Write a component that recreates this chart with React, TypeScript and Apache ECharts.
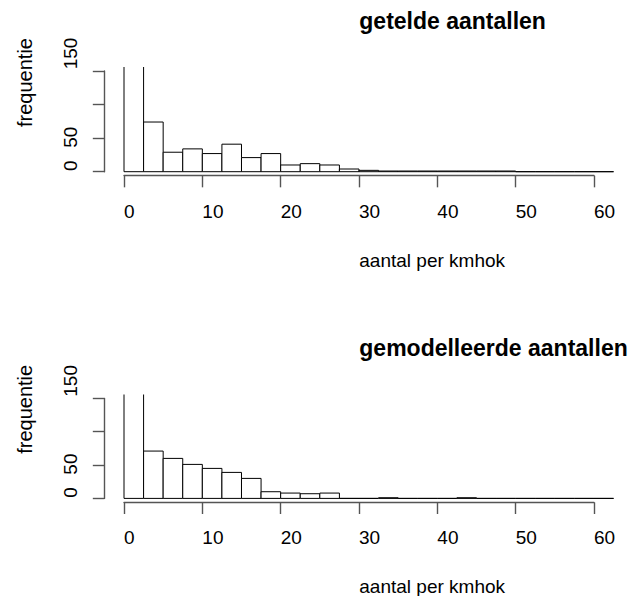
import React, { useEffect, useRef } from "react";
import * as echarts from "echarts";

// ---- data ----
const breaks = [0, 2.5, 5, 7.5, 10, 12.5, 15, 17.5, 20, 22.5, 25, 27.5, 30, 32.5, 35, 37.5, 40, 42.5, 45, 47.5, 50, 52.5, 55, 57.5, 60, 62.5];
const countsObserved = [420, 74, 29, 34, 27, 41, 21, 27, 10, 12, 10, 4, 2, 1, 1, 1, 1, 1, 1, 1, 0, 0, 0, 0, 0];
const countsModelled = [420, 71, 60, 51, 45, 39, 30, 10, 8, 7, 8, 0, 0, 1, 0, 0, 0, 1, 0, 0, 0, 0, 0, 0, 0];
const xTicks = [0, 10, 20, 30, 40, 50, 60];
const yTicks = [0, 50, 100, 150];
const yTickLabels = ["0", "50", "", "150"];
const titles = ["getelde aantallen", "gemodelleerde aantallen"];
const xLabel = "aantal per kmhok";
const yLabel = "frequentie";

// ---- layout ----
const FONT = '"Liberation Sans", Arial, Helvetica, sans-serif';
const PX0 = 124;
const PXS = 7.833;
const panelLayout = [
  { y0: 171.7, ys: 0.6713, dy: 0 },
  { y0: 498.4, ys: 0.6667, dy: 326.8 },
];
const labelPad: Record<string, number> = { "0": 12, "50": 2, "150": 35 };

function buildOption() {
  const grid: any[] = [];
  const xAxis: any[] = [];
  const yAxis: any[] = [];
  const series: any[] = [];
  const graphic: any[] = [];
  const axisLineStyle = { color: "#555", width: 1.4 };
  const panelData = [countsObserved, countsModelled];

  panelLayout.forEach((p, i) => {
    const xlo = -2.5, xhi = 65, ylo = -6, yhi = 156;
    // data grid (R plot region)
    grid.push({
      left: PX0 + xlo * PXS,
      width: (xhi - xlo) * PXS,
      top: p.y0 - yhi * p.ys,
      height: (yhi - ylo) * p.ys,
      outerBoundsMode: "none",
      containLabel: false,
    });
    // axis grid (tick range)
    grid.push({
      left: PX0,
      width: (xTicks[xTicks.length - 1] - xTicks[0]) * PXS,
      top: p.y0 - yTicks[yTicks.length - 1] * p.ys,
      height: (yTicks[yTicks.length - 1] - yTicks[0]) * p.ys,
      outerBoundsMode: "none",
      containLabel: false,
    });
    xAxis.push({ gridIndex: 2 * i, type: "value", min: xlo, max: xhi, show: false });
    xAxis.push({
      gridIndex: 2 * i + 1,
      type: "value",
      min: xTicks[0],
      max: xTicks[xTicks.length - 1],
      interval: 10,
      position: "bottom",
      offset: 6 * p.ys,
      axisLine: { show: true, onZero: false, lineStyle: axisLineStyle },
      axisTick: { show: true, length: 11.6, lineStyle: axisLineStyle },
      axisLabel: {
        show: true,
        interval: 0,
        showMinLabel: true,
        showMaxLabel: true,
        hideOverlap: false,
        align: "left",
        margin: 26,
        fontSize: 19,
        fontFamily: FONT,
        color: "#000",
      },
      splitLine: { show: false },
    });
    yAxis.push({ gridIndex: 2 * i, type: "value", min: ylo, max: yhi, show: false });
    yAxis.push({
      gridIndex: 2 * i + 1,
      type: "value",
      min: yTicks[0],
      max: yTicks[yTicks.length - 1],
      interval: 50,
      position: "left",
      offset: 2.5 * PXS,
      axisLine: { show: true, onZero: false, lineStyle: axisLineStyle },
      axisTick: { show: true, length: 11.6, lineStyle: axisLineStyle },
      axisLabel: {
        show: true,
        interval: 0,
        showMinLabel: true,
        showMaxLabel: true,
        hideOverlap: false,
        rotate: 90,
        margin: 24,
        fontSize: 19,
        fontFamily: FONT,
        color: "#000",
        formatter: (v: number) => {
          const idx = yTicks.indexOf(v);
          const t = idx >= 0 ? yTickLabels[idx] : "";
          if (!t) return "";
          return "{l" + t + "|" + t + "}";
        },
        rich: Object.fromEntries(
          Object.keys(labelPad).map((k) => [
            "l" + k,
            { fontSize: 19, fontFamily: FONT, color: "#000", padding: [0, 0, 0, labelPad[k]] },
          ])
        ),
      },
      splitLine: { show: false },
    });

    series.push({
      type: "custom",
      xAxisIndex: 2 * i,
      yAxisIndex: 2 * i,
      clip: true,
      data: panelData[i].map((c, k) => [breaks[k], breaks[k + 1], c]),
      renderItem: (params: any, api: any) => {
        const x0 = api.value(0), x1 = api.value(1), v = api.value(2);
        const pBL = api.coord([x0, 0]);
        const pTR = api.coord([x1, v]);
        const cs = params.coordSys;
        const top = Math.max(pTR[1], cs.y - 20);
        const left = pBL[0], right = pTR[0], bottom = pBL[1];
        return {
          type: "polygon",
          shape: { points: [[left, bottom], [left, top], [right, top], [right, bottom]] },
          style: { fill: "#fff", stroke: "#000", lineWidth: 1 },
        };
      },
    });

    graphic.push({
      type: "text",
      x: 359.3,
      y: 20.7 + p.dy,
      style: { text: titles[i], font: "bold 23px " + FONT, fill: "#000", textAlign: "left", textVerticalAlign: "middle" },
    });
    graphic.push({
      type: "text",
      x: 359.3,
      y: 260.1 + p.dy,
      style: { text: xLabel, font: "19px " + FONT, fill: "#000", textAlign: "left", textVerticalAlign: "middle" },
    });
    graphic.push({
      type: "text",
      x: 25,
      y: 82.5 + p.dy,
      rotation: Math.PI / 2,
      style: { text: yLabel, font: "20px " + FONT, fill: "#000", textAlign: "center", textVerticalAlign: "middle" },
    });
  });

  return {
    animation: false,
    backgroundColor: "#fff",
    grid,
    xAxis,
    yAxis,
    series,
    graphic,
  };
}

export default function App() {
  const ref = useRef<HTMLDivElement>(null);
  useEffect(() => {
    if (!ref.current) return;
    const chart = echarts.init(ref.current, undefined, { renderer: "svg" });
    chart.setOption(buildOption() as any);
    return () => chart.dispose();
  }, []);
  return (
    <div
      ref={ref}
      style={{ position: "fixed", left: 0, top: 0, width: 636, height: 596, background: "#fff" }}
    />
  );
}
